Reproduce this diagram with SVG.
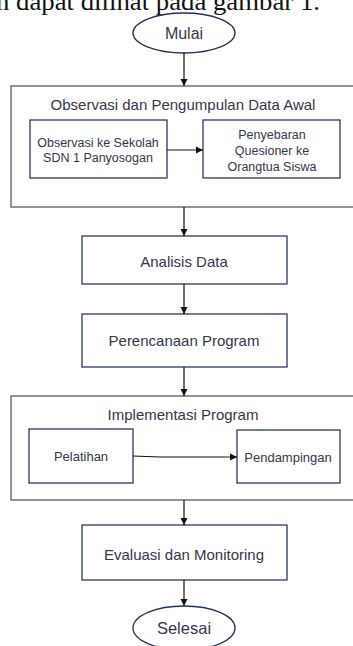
<svg xmlns="http://www.w3.org/2000/svg" width="353" height="646" viewBox="0 0 353 646">
<defs>
<marker id="ah" markerWidth="8" markerHeight="8" refX="7" refY="4" orient="auto" markerUnits="userSpaceOnUse">
<path d="M0,0.5 L7,4 L0,7.5 Z" fill="#111"/>
</marker>
<style>
.t{font-family:"Liberation Sans",Arial,sans-serif;fill:#34364a;text-anchor:middle}
.box{fill:#fff;stroke:#2e3766;stroke-width:1.3}
.outer{fill:#fff;stroke:#7a7a7a;stroke-width:1.6}
.ell{fill:#fff;stroke:#26305e;stroke-width:1.3}
.c{fill:none;stroke:#111;stroke-width:1.2;marker-end:url(#ah)}
</style>
</defs>
<rect width="353" height="646" fill="#fff"/>
<text x="-4" y="10" font-family="'Liberation Serif','Times New Roman',serif" font-size="26" fill="#111" textLength="324" lengthAdjust="spacingAndGlyphs">n dapat dilihat pada gambar 1.</text>

<g id="mulai">
<ellipse class="ell" cx="184" cy="33" rx="51" ry="20"/>
<text class="t" x="184" y="39" font-size="16">Mulai</text>
</g>

<g id="observasi-group">
<rect class="outer" x="11" y="86" width="350" height="121"/>
<text class="t" x="183" y="110" font-size="15">Observasi dan Pengumpulan Data Awal</text>
</g>
<g id="observasi-sekolah">
<rect class="box" x="30" y="120" width="137" height="58"/>
<text class="t" x="98" y="147" font-size="12.5">Observasi ke Sekolah</text>
<text class="t" x="98" y="162" font-size="12.5">SDN 1 Panyosogan</text>
</g>
<g id="penyebaran">
<rect class="box" x="203" y="120" width="137" height="58"/>
<text class="t" x="272" y="139" font-size="12.5">Penyebaran</text>
<text class="t" x="272" y="155" font-size="12.5">Quesioner ke</text>
<text class="t" x="272" y="171" font-size="12.5">Orangtua Siswa</text>
</g>

<g id="analisis">
<rect class="box" x="82" y="236" width="205" height="48"/>
<text class="t" x="184" y="267" font-size="15">Analisis Data</text>
</g>
<g id="perencanaan">
<rect class="box" x="82" y="314" width="205" height="53"/>
<text class="t" x="184" y="346" font-size="15">Perencanaan Program</text>
</g>

<g id="implementasi-group">
<rect class="outer" x="11" y="396" width="350" height="104"/>
<text class="t" x="183" y="420" font-size="15">Implementasi Program</text>
</g>
<g id="pelatihan">
<rect class="box" x="29" y="429" width="104" height="54"/>
<text class="t" x="81" y="461" font-size="13">Pelatihan</text>
</g>
<g id="pendampingan">
<rect class="box" x="237" y="430" width="103" height="53"/>
<text class="t" x="288" y="462" font-size="13">Pendampingan</text>
</g>

<g id="evaluasi">
<rect class="box" x="82" y="525" width="205" height="55"/>
<text class="t" x="184" y="560" font-size="15">Evaluasi dan Monitoring</text>
</g>
<g id="selesai">
<ellipse class="ell" cx="184" cy="628" rx="51" ry="22"/>
<text class="t" x="184" y="634" font-size="16.5">Selesai</text>
</g>

<g id="connectors">
<line class="c" x1="184" y1="53" x2="184" y2="86"/>
<line class="c" x1="167" y1="150" x2="203" y2="150"/>
<line class="c" x1="184" y1="207" x2="184" y2="236"/>
<line class="c" x1="184" y1="284" x2="184" y2="314"/>
<line class="c" x1="184" y1="367" x2="184" y2="396"/>
<polyline class="c" points="133,456 160,457 237,457"/>
<line class="c" x1="184" y1="500" x2="184" y2="525"/>
<line class="c" x1="184" y1="580" x2="184" y2="606"/>
</g>
</svg>
